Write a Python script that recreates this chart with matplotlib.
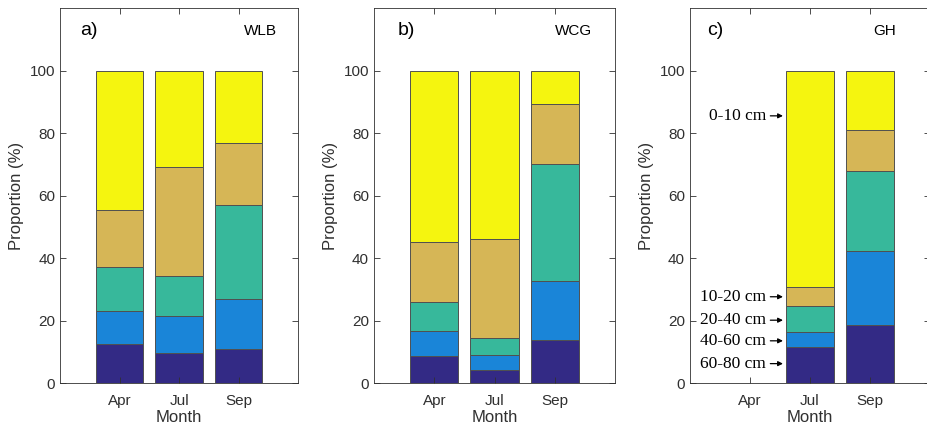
import matplotlib.pyplot as plt
import numpy as np

plt.rcParams['font.family'] = ['Liberation Sans', 'DejaVu Sans']

months = ['Apr', 'Jul', 'Sep']
layers = ['60-80 cm', '40-60 cm', '20-40 cm', '10-20 cm', '0-10 cm']
colors = ['#332a85', '#1a85d8', '#37b89b', '#d6b656', '#f5f50f']

# proportions per layer (bottom to top), per month
wlb = [[12.4, 9.5, 10.8],
       [10.8, 11.9, 16.2],
       [13.9, 12.9, 29.9],
       [18.2, 34.9, 19.8],
       [44.7, 30.8, 23.3]]
wcg = [[8.7, 4.3, 13.9],
       [7.8, 4.7, 18.6],
       [9.5, 5.5, 37.7],
       [19.2, 31.7, 19.1],
       [54.8, 53.8, 10.7]]
gh = [[0, 11.5, 18.7],
      [0, 4.7, 23.7],
      [0, 8.5, 25.3],
      [0, 5.9, 13.2],
      [0, 69.4, 19.1]]

panels = [('a)', 'WLB', wlb), ('b)', 'WCG', wcg), ('c)', 'GH', gh)]
# label y positions for the depth annotations in panel c
label_y = [6.2, 13.5, 20.1, 27.6, 85.5]

fig = plt.figure(figsize=(9.28, 4.30), dpi=100)
positions = [[0.0647, 0.1093, 0.2565, 0.872],
             [0.403, 0.1093, 0.260, 0.872],
             [0.7435, 0.1093, 0.2586, 0.872]]
tag_x = [(0.084, 0.91), (0.10, 0.905), (0.07, 0.86)]

x = np.arange(1, 4)
for i, (tag, site, data) in enumerate(panels):
    ax = fig.add_axes(positions[i])
    bottom = np.zeros(3)
    for k in range(5):
        vals = np.array(data[k])
        mask = vals > 0
        ax.bar(x[mask], vals[mask], 0.8, bottom=bottom[mask], color=colors[k],
               edgecolor='#505050', linewidth=0.7)
        bottom += vals
    ax.set_xlim(0, 4)
    ax.set_ylim(0, 120)
    ax.set_xticks(x)
    ax.set_xticklabels(months)
    ax.set_yticks([0, 20, 40, 60, 80, 100])
    ax.tick_params(direction='in', top=True, right=True, labelsize=11,
                   colors='#303030', length=4, width=0.6)
    ax.tick_params(axis='x', pad=8)
    for s in ax.spines.values():
        s.set_color('#303030')
        s.set_linewidth(0.6)
    ax.set_xlabel('Month', fontsize=12, color='#303030', labelpad=1)
    ax.set_ylabel('Proportion (%)', fontsize=12, color='#303030')
    ax.text(tag_x[i][0], 0.94, tag, transform=ax.transAxes, fontsize=14,
            va='center', ha='left')
    ax.text(tag_x[i][1], 0.94, site, transform=ax.transAxes, fontsize=11,
            va='center', ha='right')

    if site == 'GH':
        for k in range(5):
            ax.annotate(layers[k], xy=(1.55, label_y[k]), xytext=(1.27, label_y[k]),
                        fontsize=12.5, family='Liberation Serif', ha='right', va='center',
                        arrowprops=dict(arrowstyle='-|>', color='black', lw=0.9,
                                        mutation_scale=7, shrinkA=1, shrinkB=0))

fig.savefig('out.png', dpi=100)
